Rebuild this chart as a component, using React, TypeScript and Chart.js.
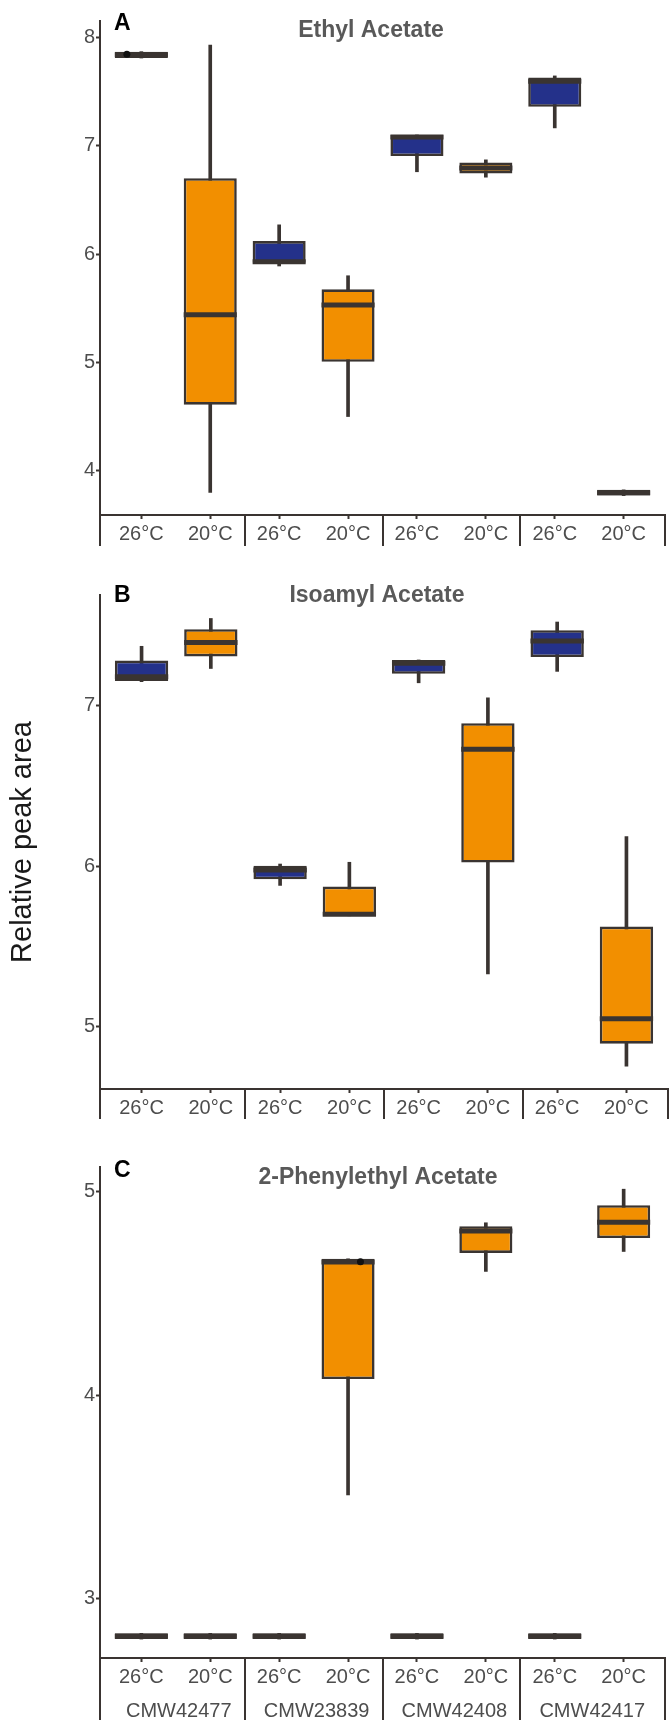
import React, { useEffect, useRef } from 'react';
import { Chart, registerables } from 'chart.js';

Chart.register(...registerables);

const FONT = "'Liberation Sans', Arial, Helvetica, sans-serif";
const DARK = '#3a3431';
const BLUE = '#24318a';
const ORANGE = '#f28f00';
const TEXT = '#4d4d4d';
const TITLE = '#595959';

// ---- shared categories ----
const temperatures = ['26°C', '20°C', '26°C', '20°C', '26°C', '20°C', '26°C', '20°C'];
const categoryX = [1, 2, 3, 4, 5, 6, 7, 8];
const strains = ['CMW42477', 'CMW23839', 'CMW42408', 'CMW42417'];
const strainCenters = [1.5, 3.5, 5.5, 7.5];
const groupBounds = [0.4, 2.5, 4.5, 6.5, 8.6];

// ---- Panel A: Ethyl Acetate ----
const ethylLow = [7.81, 3.8, 5.89, 4.5, 6.76, 6.71, 7.165, 3.77];
const ethylQ1 = [7.81, 4.61, 5.92, 5.005, 6.905, 6.745, 7.36, 3.77];
const ethylMedian = [7.84, 5.44, 5.93, 5.53, 7.08, 6.795, 7.595, 3.797];
const ethylQ3 = [7.869, 6.7, 6.12, 5.675, 7.1, 6.845, 7.63, 3.823];
const ethylHigh = [7.869, 7.93, 6.27, 5.8, 7.1, 6.87, 7.645, 3.823];
const ethylPoints = [{ x: 0.79, y: 7.845 }];
const ethylTicks = [4, 5, 6, 7, 8];

// ---- Panel B: Isoamyl Acetate ----
const isoamylLow = [7.147, 7.229, 5.88, 5.691, 7.14, 5.329, 7.211, 4.756];
const isoamylQ1 = [7.151, 7.304, 5.918, 5.691, 7.196, 6.022, 7.3, 4.896];
const isoamylMedian = [7.178, 7.391, 5.976, 5.7, 7.262, 6.727, 7.4, 5.051];
const isoamylQ3 = [7.278, 7.473, 6.002, 5.873, 7.282, 6.889, 7.467, 5.624];
const isoamylHigh = [7.367, 7.54, 6.013, 6.024, 7.282, 7.047, 7.518, 6.184];
const isoamylPoints: { x: number; y: number }[] = [];
const isoamylTicks = [5, 6, 7];

// ---- Panel C: 2-Phenylethyl Acetate ----
const phenylLow = [2.803, 2.803, 2.803, 3.511, 2.803, 4.609, 2.803, 4.707];
const phenylQ1 = [2.803, 2.803, 2.803, 4.08, 2.803, 4.7, 2.803, 4.773];
const phenylMedian = [2.817, 2.817, 2.817, 4.655, 2.817, 4.807, 2.817, 4.85];
const phenylQ3 = [2.831, 2.831, 2.831, 4.671, 2.831, 4.831, 2.831, 4.934];
const phenylHigh = [2.831, 2.831, 2.831, 4.671, 2.831, 4.848, 2.831, 5.013];
const phenylPoints = [{ x: 4.18, y: 4.656 }];
const phenylTicks = [3, 4, 5];

const BOX_WIDTH = 0.77;
const fills = temperatures.map((t) => (t === '26°C' ? BLUE : ORANGE));

type Panel = {
  letter: string;
  title: string;
  low: number[];
  q1: number[];
  med: number[];
  q3: number[];
  high: number[];
  points: { x: number; y: number }[];
  ticks: number[];
  yMin: number;
  yMax: number;
  height: number;
  top: number;
  xAxisHeight: number;
  sepLength: number;
  titleX: number;
  titleBaseline: number;
  letterBaseline: number;
  showYTitle: boolean;
  showStrains: boolean;
};

const panels: Panel[] = [
  {
    letter: 'A', title: 'Ethyl Acetate',
    low: ethylLow, q1: ethylQ1, med: ethylMedian, q3: ethylQ3, high: ethylHigh,
    points: ethylPoints, ticks: ethylTicks, yMin: 3.591, yMax: 8.152,
    height: 560, top: 21, xAxisHeight: 45, sepLength: 31,
    titleX: 371, titleBaseline: 37, letterBaseline: 30, showYTitle: false, showStrains: false,
  },
  {
    letter: 'B', title: 'Isoamyl Acetate',
    low: isoamylLow, q1: isoamylQ1, med: isoamylMedian, q3: isoamylQ3, high: isoamylHigh,
    points: isoamylPoints, ticks: isoamylTicks, yMin: 4.614, yMax: 7.686,
    height: 560, top: 35, xAxisHeight: 31, sepLength: 30,
    titleX: 377, titleBaseline: 42, letterBaseline: 42, showYTitle: true, showStrains: false,
  },
  {
    letter: 'C', title: '2-Phenylethyl Acetate',
    low: phenylLow, q1: phenylQ1, med: phenylMedian, q3: phenylQ3, high: phenylHigh,
    points: phenylPoints, ticks: phenylTicks, yMin: 2.71, yMax: 5.122,
    height: 600, top: 47, xAxisHeight: 62, sepLength: 62,
    titleX: 378, titleBaseline: 64, letterBaseline: 57, showYTitle: false, showStrains: true,
  },
];

function decorPlugin(p: Panel) {
  return {
    id: 'decor' + p.letter,
    afterDraw(chart: any) {
      const { ctx, chartArea } = chart;
      const x = chart.scales.x;
      ctx.save();
      ctx.strokeStyle = DARK;
      ctx.lineWidth = 2;
      for (const b of groupBounds) {
        const px = Math.round(x.getPixelForValue(b));
        ctx.beginPath();
        ctx.moveTo(px, chartArea.bottom);
        ctx.lineTo(px, chartArea.bottom + p.sepLength);
        ctx.stroke();
      }
      if (p.showStrains) {
        ctx.font = `20px ${FONT}`;
        ctx.fillStyle = TEXT;
        ctx.textAlign = 'center';
        ctx.textBaseline = 'alphabetic';
        strains.forEach((s, i) => {
          ctx.fillText(s, x.getPixelForValue(strainCenters[i]) + 3, chartArea.bottom + 59);
        });
      }
      ctx.font = `bold 23px ${FONT}`;
      ctx.fillStyle = '#000';
      ctx.textAlign = 'left';
      ctx.textBaseline = 'alphabetic';
      ctx.fillText(p.letter, 114, p.letterBaseline);
      ctx.fillStyle = TITLE;
      ctx.textAlign = 'center';
      ctx.fillText(p.title, p.titleX, p.titleBaseline);
      ctx.restore();
    },
  };
}

function buildConfig(p: Panel): any {
  const halfBox = (c: any) => {
    const s = c.chart.scales.x;
    if (!s) return 26;
    return Math.abs(s.getPixelForValue(1 + BOX_WIDTH / 2) - s.getPixelForValue(1));
  };
  return {
    type: 'bar',
    data: {
      datasets: [
        {
          type: 'bar',
          label: 'whisker',
          data: categoryX.map((x, i) => ({ x, y: [p.low[i], p.high[i]] })),
          backgroundColor: DARK,
          borderWidth: 0,
          barThickness: 3,
          grouped: false,
          order: 3,
        },
        {
          type: 'bar',
          label: 'box',
          data: categoryX.map((x, i) => ({ x, y: [p.q1[i], p.q3[i]] })),
          backgroundColor: fills,
          borderColor: DARK,
          borderWidth: 2.6,
          borderSkipped: false,
          barPercentage: BOX_WIDTH,
          categoryPercentage: 1,
          grouped: false,
          order: 2,
        },
        {
          type: 'scatter',
          label: 'median',
          data: categoryX.map((x, i) => ({ x, y: p.med[i] })),
          pointStyle: 'line',
          borderColor: DARK,
          backgroundColor: DARK,
          borderWidth: 5,
          radius: halfBox,
          hoverRadius: halfBox,
          order: 1,
        },
        {
          type: 'scatter',
          label: 'points',
          data: p.points,
          pointStyle: 'circle',
          radius: 3.5,
          backgroundColor: '#111',
          borderWidth: 0,
          order: 0,
        },
      ],
    },
    options: {
      animation: false,
      responsive: false,
      devicePixelRatio: 1,
      events: [],
      layout: { padding: { top: p.top, right: 1, bottom: 0, left: 0 } },
      plugins: {
        legend: { display: false },
        tooltip: { enabled: false },
        title: { display: false },
      },
      scales: {
        x: {
          type: 'linear',
          min: 0.4,
          max: 8.6,
          bounds: 'data',
          offset: false,
          afterBuildTicks: (s: any) => {
            s.ticks = categoryX.map((v) => ({ value: v }));
          },
          afterFit: (s: any) => {
            s.height = p.xAxisHeight;
          },
          ticks: {
            autoSkip: false,
            maxRotation: 0,
            minRotation: 0,
            padding: 3,
            color: TEXT,
            font: { family: FONT, size: 20 },
            callback: (_v: any, i: number) => temperatures[i],
          },
          grid: {
            display: true,
            drawOnChartArea: false,
            drawTicks: true,
            tickLength: 4,
            tickWidth: 2,
            tickColor: DARK,
            offset: false,
          },
          border: { display: true, color: DARK, width: 2 },
        },
        y: {
          type: 'linear',
          min: p.yMin,
          max: p.yMax,
          bounds: 'data',
          afterBuildTicks: (s: any) => {
            s.ticks = p.ticks.map((v) => ({ value: v }));
          },
          afterFit: (s: any) => {
            s.width = 100;
          },
          ticks: {
            padding: 1,
            color: TEXT,
            font: { family: FONT, size: 20 },
            callback: (v: any) => String(v),
          },
          grid: {
            display: true,
            drawOnChartArea: false,
            drawTicks: true,
            tickLength: 4,
            tickWidth: 2,
            tickColor: DARK,
          },
          border: { display: true, color: DARK, width: 2 },
          title: {
            display: p.showYTitle,
            text: 'Relative peak area',
            color: '#1a1a1a',
            font: { family: FONT, size: 29 },
            padding: { top: 6, bottom: 0 },
          },
        },
      },
    },
    plugins: [decorPlugin(p)],
  };
}

function PanelChart({ panel }: { panel: Panel }) {
  const ref = useRef<HTMLCanvasElement>(null);
  useEffect(() => {
    if (!ref.current) return;
    const chart = new Chart(ref.current, buildConfig(panel));
    return () => chart.destroy();
  }, [panel]);
  return (
    <canvas
      ref={ref}
      width={669}
      height={panel.height}
      style={{ display: 'block', width: 669, height: panel.height }}
    />
  );
}

export default function App() {
  useEffect(() => {
    document.body.style.margin = '0';
  }, []);
  return (
    <div style={{ position: 'absolute', left: 0, top: 0, width: 669, height: 1720, background: '#fff' }}>
      {panels.map((p) => (
        <PanelChart key={p.letter} panel={p} />
      ))}
    </div>
  );
}
